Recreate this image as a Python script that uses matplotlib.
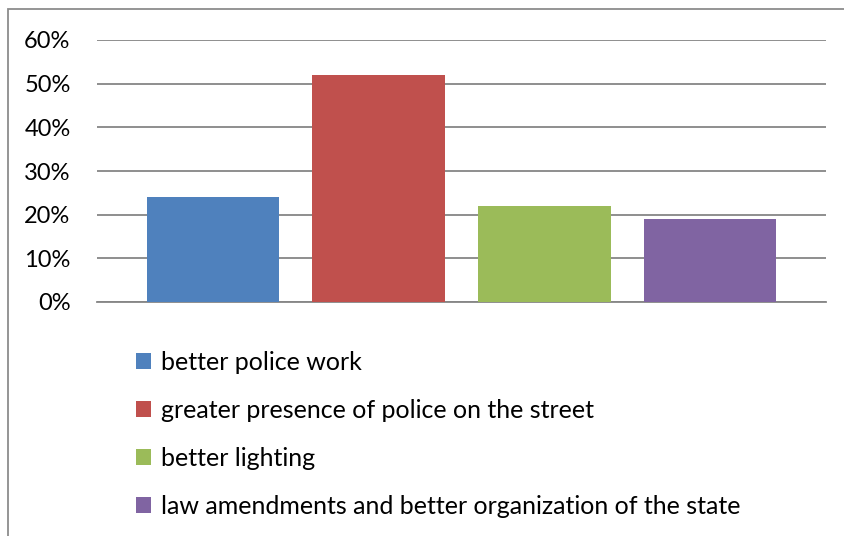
import matplotlib.pyplot as plt
from matplotlib.patches import Rectangle, Patch
from matplotlib.ticker import PercentFormatter

categories = ["better police work",
              "greater presence of police on the street",
              "better lighting",
              "law amendments and better organization of the state"]
values = [24, 52, 22, 19]
colors = ["#4F81BD", "#C0504D", "#9BBB59", "#8064A2"]
yticks = [0, 10, 20, 30, 40, 50, 60]

plt.rcParams['font.family'] = ['Lato', 'DejaVu Sans']

fig = plt.figure(figsize=(8.44, 5.36), dpi=100)
ax = fig.add_axes([97 / 844, 1 - 302 / 536, (826 - 97) / 844, (302 - 40) / 536])

x = list(range(len(values)))
ax.bar(x, values, width=0.8, color=colors, zorder=3)
ax.set_xlim(-0.7, 3.7)
ax.set_ylim(0, 60)
ax.set_yticks(yticks)
ax.yaxis.set_major_formatter(PercentFormatter(decimals=0))
ax.set_xticks([])
ax.tick_params(axis='y', length=0, pad=19, labelsize=17)
ax.grid(axis='y', color='#868686', linewidth=1.3, zorder=0)
for side in ['left', 'right', 'top']:
    ax.spines[side].set_visible(False)
ax.spines['bottom'].set_color('#868686')
ax.spines['bottom'].set_linewidth(1.3)

handles = [Patch(facecolor=c, label=l) for c, l in zip(colors, categories)]
fig.legend(handles=handles, loc='upper left', bbox_to_anchor=(126 / 844, 1 - 341 / 536),
           frameon=False, fontsize=18, handlelength=0.6, handleheight=0.6,
           handletextpad=0.4, labelspacing=1.0, borderaxespad=0)

# outer chart border (runs off the right and bottom edges)
fig.patches.append(Rectangle((8 / 844, -0.1), 1.2, 1 - 9 / 536 + 0.1, transform=fig.transFigure,
                             fill=False, edgecolor='#8c8c8c', linewidth=1.3))

fig.savefig('out.png', dpi=100)
